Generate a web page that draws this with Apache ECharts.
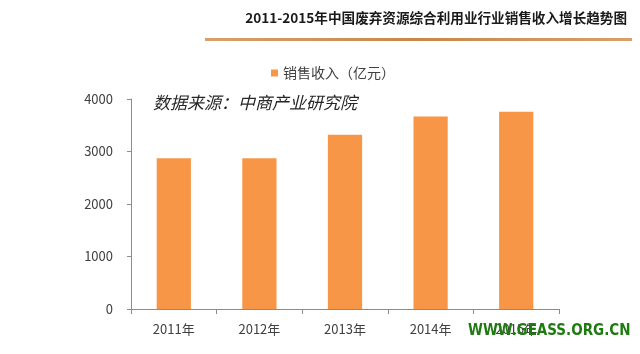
<!DOCTYPE html>
<html>
<head>
<meta charset="utf-8">
<script src="https://cdn.jsdelivr.net/npm/echarts@6/dist/echarts.min.js"></script>
<style>
  html, body { margin: 0; padding: 0; background: #fff; }
  #main { width: 640px; height: 354px; }
</style>
</head>
<body>
<div id="main"></div>
<script>
// 数据
const years = ['2011年', '2012年', '2013年', '2014年', '2015年'];
const revenue = [2870, 2870, 3320, 3665, 3755];
const yTicks = [0, 1000, 2000, 3000, 4000];

const font = '"Noto Sans CJK SC", "Microsoft YaHei", sans-serif';

const chart = echarts.init(document.getElementById('main'));
const option = {
  backgroundColor: '#ffffff',
  animation: false,
  title: {
    text: '2011-2015年中国废弃资源综合利用业行业销售收入增长趋势图',
    right: 8,
    top: 6,
    textStyle: { fontFamily: font, fontSize: 13.6, fontWeight: 'bold', color: '#1a1a1a' }
  },
  legend: {
    data: ['销售收入（亿元）'],
    left: 266,
    top: 61,
    itemWidth: 7,
    itemHeight: 7,
    itemGap: 4,
    icon: 'rect',
    textStyle: { fontFamily: font, fontSize: 14, color: '#404040' }
  },
  grid: { left: 131, right: 81, top: 99, bottom: 45 },
  xAxis: {
    type: 'category',
    data: years,
    axisLine: { lineStyle: { color: '#8c8c8c', width: 1 } },
    axisTick: { show: true, length: 5, lineStyle: { color: '#8c8c8c' } },
    axisLabel: { fontFamily: font, fontSize: 13, color: '#404040', margin: 14 }
  },
  yAxis: {
    type: 'value',
    min: yTicks[0],
    max: yTicks[yTicks.length - 1],
    interval: 1000,
    splitLine: { show: false },
    axisLine: { show: true, lineStyle: { color: '#8c8c8c', width: 1 } },
    axisTick: { show: true, length: 4, lineStyle: { color: '#8c8c8c' } },
    axisLabel: {
      fontFamily: font, fontSize: 13, color: '#404040', margin: 18,
      formatter: v => String(v)
    }
  },
  series: [{
    name: '销售收入（亿元）',
    type: 'bar',
    data: revenue,
    barWidth: '40%',
    itemStyle: { color: '#F79646' }
  }],
  graphic: [
    {
      // 标题下划线
      type: 'rect',
      shape: { x: 205, y: 38, width: 427, height: 3 },
      style: {
        fill: new echarts.graphic.LinearGradient(0, 0, 1, 0, [
          { offset: 0, color: '#d9a06a' },
          { offset: 0.5, color: '#c8874a' },
          { offset: 1, color: '#d9a06a' }
        ])
      }
    },
    {
      type: 'text',
      left: 153,
      top: 94,
      style: {
        text: '数据来源：中商产业研究院',
        fontFamily: font,
        fontSize: 17,
        fontStyle: 'italic',
        fill: '#262626'
      }
    },
    {
      // 水印
      type: 'text',
      left: 468,
      top: 324,
      z: 100,
      style: {
        text: 'WWW.GEASS.ORG.CN',
        fontFamily: '"Liberation Sans Narrow", "DejaVu Sans Condensed", sans-serif',
        fontSize: 15,
        fontWeight: 'bold',
        fill: '#1f7a12'
      }
    }
  ]
};
chart.setOption(option);
window.addEventListener('resize', () => chart.resize());
</script>
</body>
</html>
